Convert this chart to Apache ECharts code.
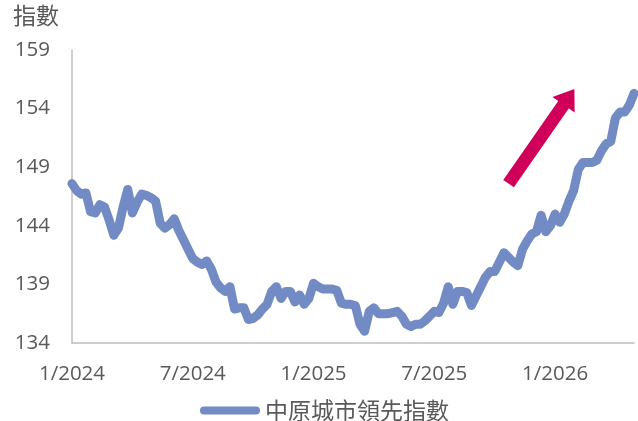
<!DOCTYPE html>
<html>
<head>
<meta charset="utf-8">
<script src="https://cdn.jsdelivr.net/npm/echarts@6/dist/echarts.min.js"></script>
<style>
html,body{margin:0;padding:0;background:#fff;}
#main{width:638px;height:421px;}
</style>
</head>
<body>
<div id="main"></div>
<script>
// Weekly index values, Jan 2024 – Apr 2026 (one value per week)
const indexValues = [
147.6,147.0,146.7,146.8,145.2,145.1,145.8,145.6,144.5,143.2,
143.8,145.6,147.1,145.1,146.0,146.7,146.6,146.4,146.1,144.2,
143.8,144.1,144.6,143.6,142.8,142.0,141.2,140.9,140.7,141.0,
140.3,139.2,138.7,138.4,138.8,136.9,137.0,137.0,136.0,136.1,
136.4,136.9,137.3,138.4,138.8,137.8,138.4,138.4,137.5,138.1,
137.3,137.8,139.1,138.8,138.6,138.6,138.6,138.5,137.4,137.3,
137.3,137.2,135.6,135.0,136.7,137.0,136.5,136.5,136.5,136.6,
136.7,136.3,135.6,135.4,135.6,135.6,135.9,136.3,136.7,136.6,
137.4,138.8,137.3,138.4,138.4,138.3,137.2,138.0,138.8,139.6,
140.1,140.1,140.9,141.7,141.3,140.9,140.6,142.0,142.7,143.3,
143.5,144.9,143.5,144.0,145.0,144.3,145.0,146.1,147.0,148.8,
149.4,149.4,149.4,149.6,150.4,151.0,151.2,153.2,153.7,153.7,
154.3,155.3
];
const seriesName = '中原城市領先指數';
const yTitle = '指數';
const yTicks = [134, 139, 144, 149, 154, 159];
const xTickLabels = ['1/2024', '7/2024', '1/2025', '7/2025', '1/2026'];
const xTickWeeks = [0, 26, 52, 78, 104];
// trend arrow annotation (week number, value)
const arrowFrom = [94, 147.6];
const arrowTo = [107, 155.0];

const seriesData = indexValues.map((v, i) => [i, v]);

const chart = echarts.init(document.getElementById('main'));
const txt = '#595959';
const latin = '"Open Sans", "Noto Sans CJK TC", sans-serif';
const cjk = '"Noto Sans CJK TC", sans-serif';
const lineColor = '#728bc4';

chart.setOption({
  animation: false,
  grid: { left: 72, right: 4, top: 50, bottom: 78, containLabel: false },
  graphic: [{
    type: 'text', left: 13, top: 4,
    style: { text: yTitle, fill: txt, font: '23px ' + cjk }
  }],
  legend: {
    data: [seriesName],
    left: 195, top: 394,
    itemWidth: 60, itemHeight: 9,
    icon: 'path://M4,0 L56,0 A4,4 0 0 1 56,8 L4,8 A4,4 0 0 1 4,0 Z',
    textStyle: { color: txt, fontSize: 23, fontFamily: cjk },
    itemStyle: { color: lineColor }
  },
  xAxis: {
    type: 'value',
    min: 0, max: indexValues.length - 1, interval: 26,
    axisLine: { show: true, lineStyle: { color: '#bfbfbf', width: 1.5 } },
    axisTick: { show: false },
    splitLine: { show: false },
    axisLabel: {
      formatter: (v) => {
        const k = xTickWeeks.indexOf(v);
        return k >= 0 ? xTickLabels[k] : '';
      },
      color: txt, fontSize: 20.5, fontFamily: latin, margin: 21,
      showMinLabel: true, showMaxLabel: false, hideOverlap: false
    }
  },
  yAxis: {
    type: 'value',
    min: 134, max: 159, interval: 1,
    axisLine: { show: true, lineStyle: { color: '#bfbfbf', width: 1.5 } },
    axisTick: { show: false },
    splitLine: { show: false },
    axisLabel: {
      formatter: (v) => yTicks.includes(v) ? String(v) : '',
      color: txt, fontSize: 20.5, fontFamily: latin, margin: 22
    }
  },
  series: [{
    name: seriesName,
    type: 'line',
    data: seriesData,
    showSymbol: false,
    symbol: 'none',
    lineStyle: { color: lineColor, width: 9, join: 'round', cap: 'round' },
    itemStyle: { color: lineColor },
    markLine: {
      silent: true,
      symbol: ['none', 'triangle'],
      symbolSize: [27, 19],
      label: { show: false },
      lineStyle: { color: '#d0005a', width: 13, type: 'solid', cap: 'butt' },
      itemStyle: { color: '#d0005a' },
      emphasis: { disabled: true },
      data: [[{ coord: arrowFrom }, { coord: arrowTo }]]
    }
  }]
});
</script>
</body>
</html>
